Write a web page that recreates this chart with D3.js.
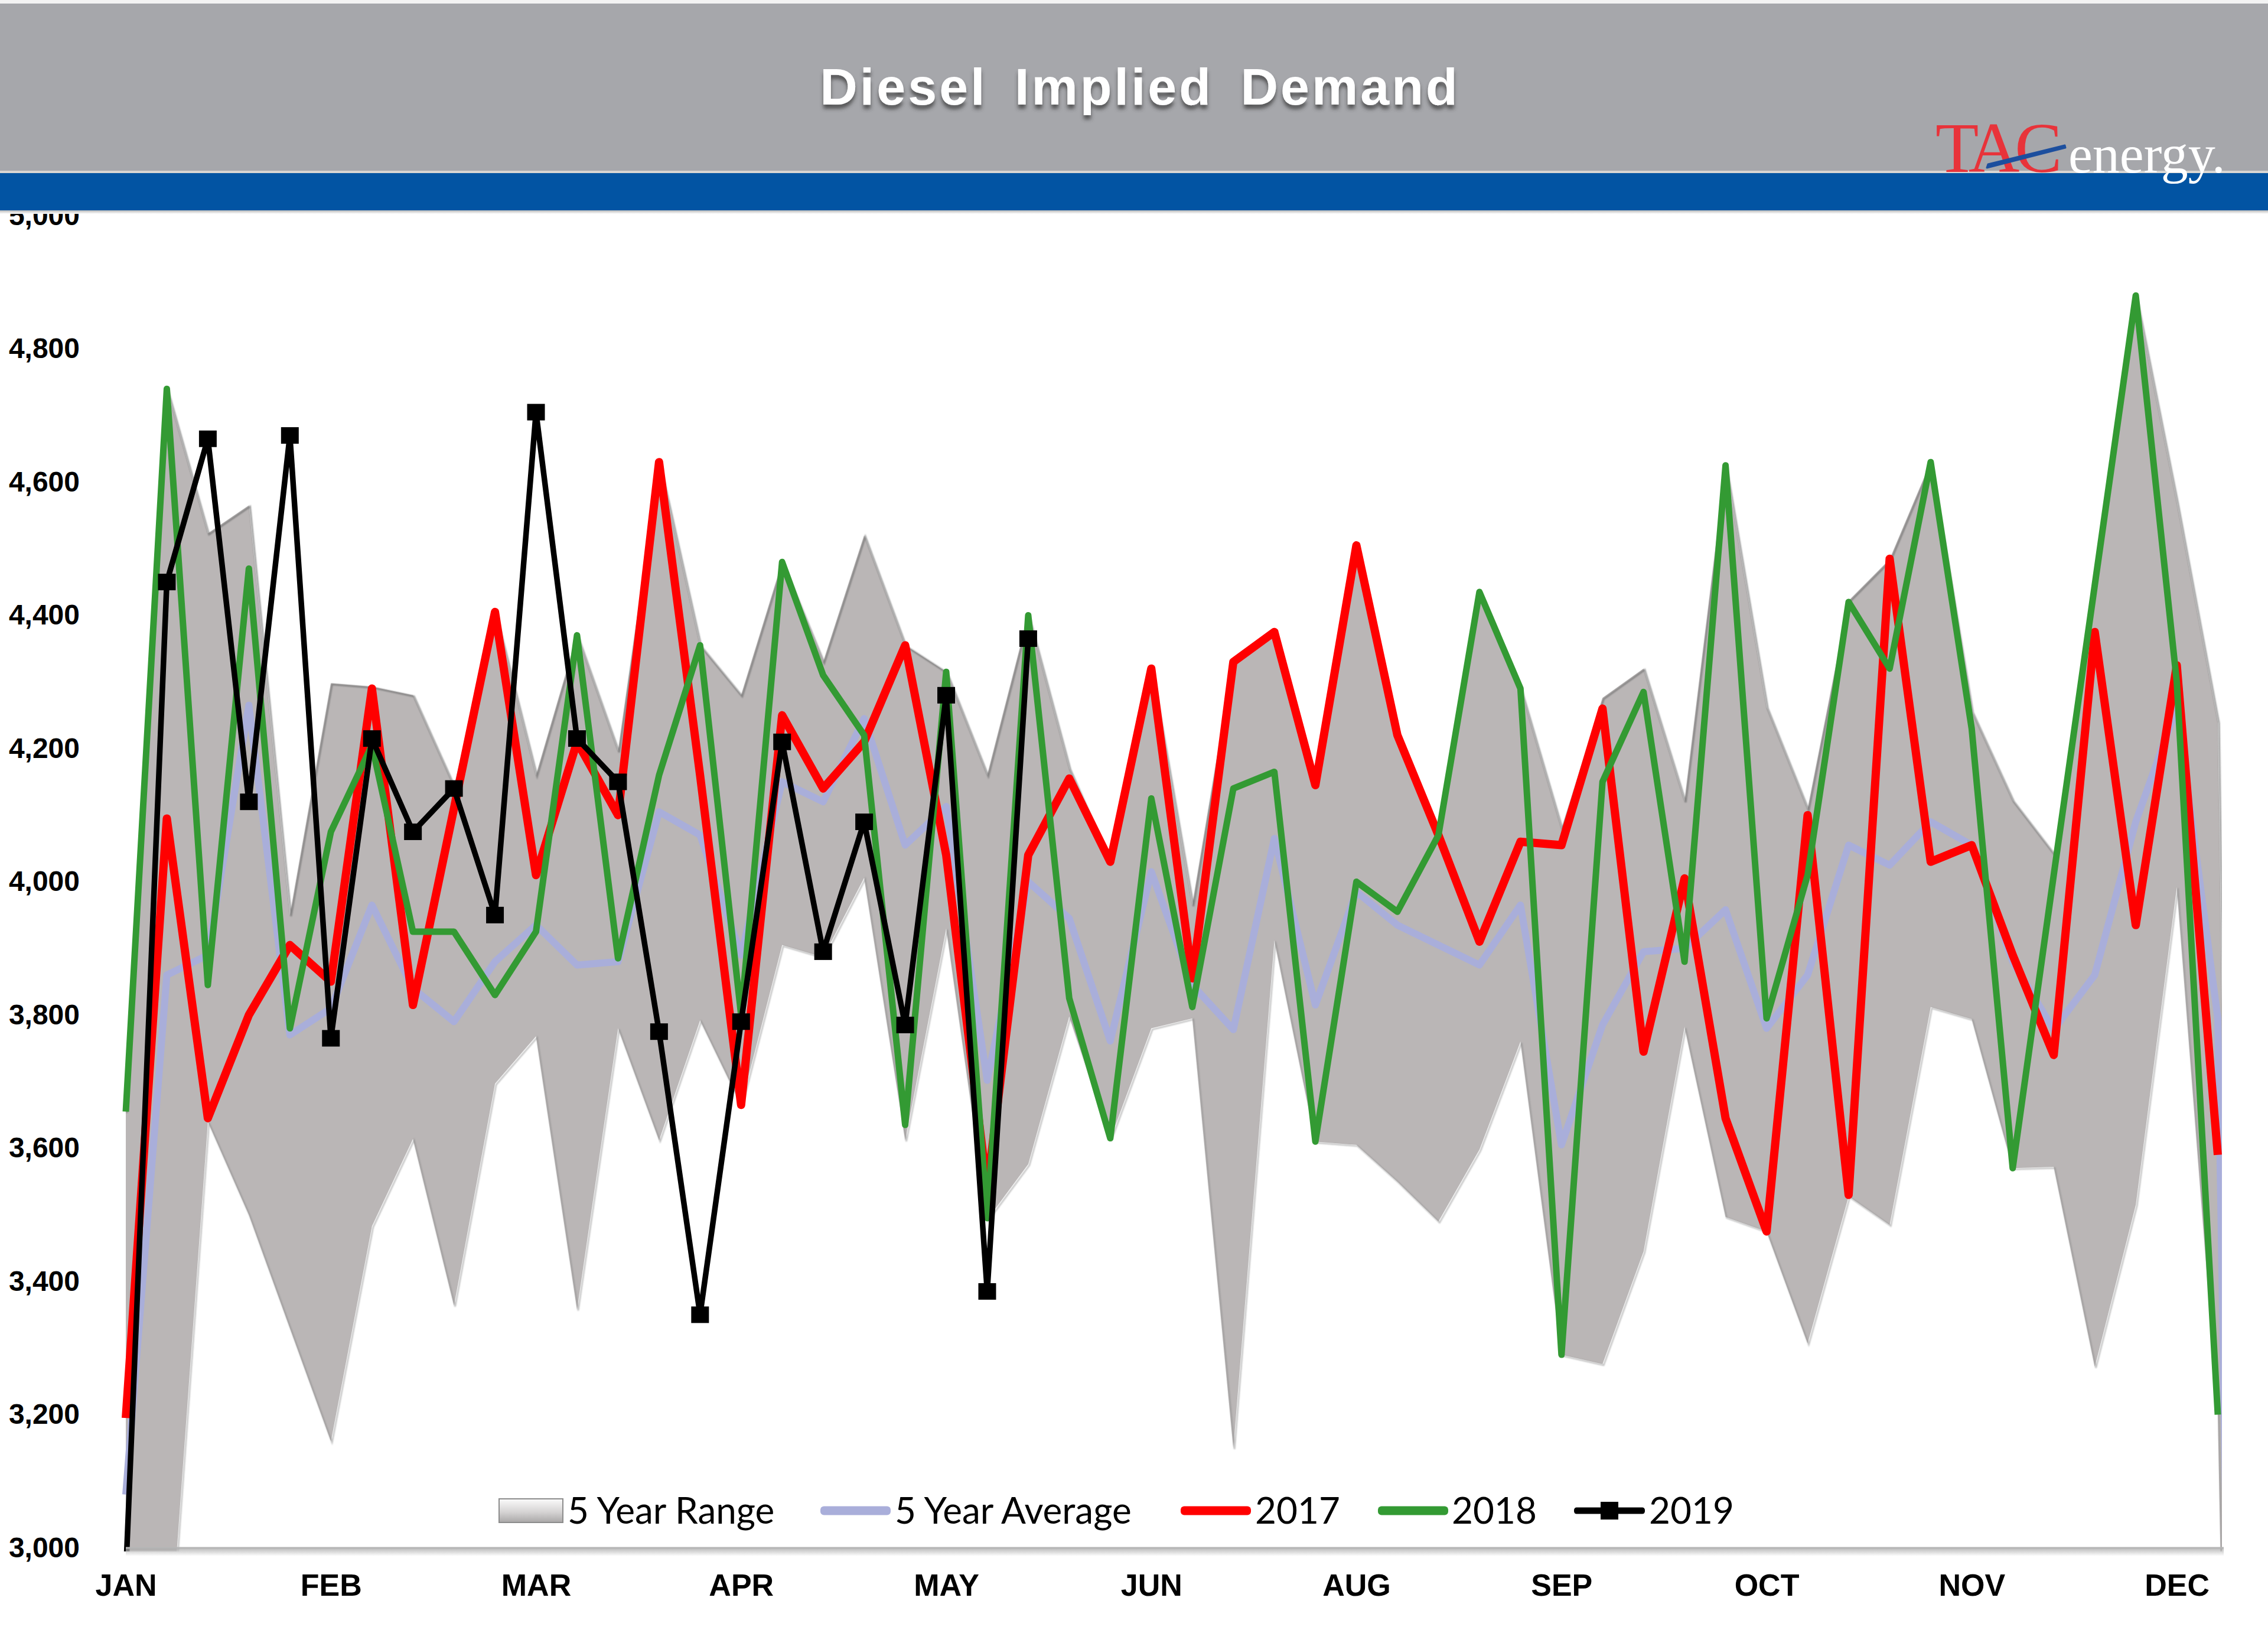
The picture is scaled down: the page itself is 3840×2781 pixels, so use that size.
<!DOCTYPE html>
<html>
<head>
<meta charset="utf-8">
<script src="https://cdn.jsdelivr.net/npm/d3@7/dist/d3.min.js"></script>
<style>
  html, body { margin: 0; padding: 0; background: #ffffff; }
  svg { display: block; }
</style>
</head>
<body>
<svg id="chart" width="3840" height="2781"></svg>
<script>
// ---------------- DATA ----------------
const weeks = [1,2,3,4,5,6,7,8,9,10,11,12,13,14,15,16,17,18,19,20,21,22,23,24,25,26,
               27,28,29,30,31,32,33,34,35,36,37,38,39,40,41,42,43,44,45,46,47,48,49,50,51,52];
const tickWeeks  = [1,6,11,16,21,26,31,36,41,46,51];
const tickLabels = ["JAN","FEB","MAR","APR","MAY","JUN","AUG","SEP","OCT","NOV","DEC"];
const yTicks = [3000,3200,3400,3600,3800,4000,4200,4400,4600,4800,5000];

// 5-year range (min / max); last entry = week 53 (empty, plotted as 0)
const rangeMin = [2850,2790,3640,3500,3330,3160,3483,3614,3364,3697,3768,3358,3780,3612,3792,3665,
                  3905,3887,4006,3612,3930,3493,3576,3798,3614,3780,3795,3150,3912,3610,3605,3550,
                  3490,3598,3760,3290,3276,3445,3782,3497,3475,3307,3528,3485,3812,3794,3570,3572,
                  3272,3515,3992,3200,0];
const rangeMax = [3655,4740,4523,4565,3950,4298,4293,4280,4143,4405,4160,4370,4196,4630,4355,4280,
                  4480,4330,4520,4355,4315,4160,4400,4170,4030,4320,3965,4335,4375,4145,4505,4222,
                  4075,4435,4290,4080,4276,4320,4121,4625,4262,4109,4422,4484,4630,4256,4122,4042,
                  4445,4880,4570,4240,0];
const avg5 = [3080,3860,3890,4265,3770,3810,3965,3840,3790,3880,3935,3875,3880,4105,4070,3890,
              4150,4120,4245,4055,4113,3702,4000,3945,3761,4015,3845,3778,4065,3815,3985,3935,
              3905,3875,3965,3605,3785,3895,3900,3958,3780,3860,4055,4025,4090,4055,3880,3778,
              3860,4090,4262,3795,0];
const y2017 = [3195,4095,3645,3800,3905,3850,4290,3815,4110,4405,4010,4210,4100,4630,4160,3665,
               4250,4140,4210,4355,4040,3540,4040,4155,4030,4320,3855,4330,4375,4145,4505,4220,
               4070,3910,4060,4055,4260,3745,4005,3645,3475,4100,3530,4485,4030,4055,3890,3740,
               4375,3935,4325,3590];
const y2018 = [3655,4740,3845,4470,3780,4075,4205,3925,3925,3830,3925,4370,3885,4160,4355,3800,
               4480,4310,4220,3635,4315,3495,4400,3825,3615,4125,3812,4140,4165,3610,4000,3955,
               4070,4435,4290,3290,4150,4285,3880,4625,3795,4010,4420,4320,4630,4230,3570,4010,
               4445,4880,4300,3200];
const y2019 = [2960,4450,4665,4120,4670,3765,4215,4075,4140,3950,4705,4215,4150,3775,3350,3790,
               4210,3895,4090,3785,4280,3385,4365];

const colors = { range:"#bab6b6", avg:"#a9aeda", y2017:"#ff0000", y2018:"#339a33", y2019:"#000000" };

// ---------------- SCALES ----------------
const svg = d3.select("#chart");
const x = d3.scaleLinear().domain([weeks[0], weeks[weeks.length-1]]).range([213, 3755]);
const y = d3.scaleLinear().domain([3000, 5000]).range([2620, 365]);
const wk = i => weeks[0] + i;   // week number for array index

const defs = svg.append("defs");
defs.append("clipPath").attr("id","plotClip")
  .append("rect").attr("x",196).attr("y",330).attr("width",3566).attr("height",2296);
const lg = defs.append("linearGradient").attr("id","rangeSwatch").attr("x1",0).attr("y1",0).attr("x2",0).attr("y2",1);
lg.append("stop").attr("offset","0%").attr("stop-color","#fbfbfb");
lg.append("stop").attr("offset","55%").attr("stop-color","#d6d4d4");
lg.append("stop").attr("offset","100%").attr("stop-color","#a9a7a7");
const sh = defs.append("linearGradient").attr("id","bandShadow").attr("x1",0).attr("y1",0).attr("x2",0).attr("y2",1);
sh.append("stop").attr("offset","0%").attr("stop-color","#b9b9b9");
sh.append("stop").attr("offset","100%").attr("stop-color","#ffffff");
const ax = defs.append("linearGradient").attr("id","axisShadow").attr("x1",0).attr("y1",0).attr("x2",0).attr("y2",1);
ax.append("stop").attr("offset","0%").attr("stop-color","#9a9a9a");
ax.append("stop").attr("offset","100%").attr("stop-color","#ffffff");
const tf = defs.append("filter").attr("id","titleShadow").attr("x","-10%").attr("y","-30%").attr("width","120%").attr("height","180%");
tf.append("feDropShadow").attr("dx",0).attr("dy",7).attr("stdDeviation",3)
  .attr("flood-color","#3a3a3a").attr("flood-opacity",0.75);
const ef = defs.append("filter").attr("id","edgeBlur");
ef.append("feGaussianBlur").attr("stdDeviation",1.2);

// ---------------- PLOT ----------------
const plot = svg.append("g").attr("clip-path","url(#plotClip)");

const rangeData = rangeMin.map((m,i)=>({w:wk(i), lo:m, hi:rangeMax[i]}));
plot.append("path").datum(rangeData)
  .attr("d", d3.area().x(d=>x(d.w)).y0(d=>y(d.lo)).y1(d=>y(d.hi)))
  .attr("fill", colors.range);
plot.append("path").datum(rangeData)
  .attr("d", d3.line().x(d=>x(d.w)+2).y(d=>y(d.hi)+2))
  .attr("fill","none").attr("stroke","#6f6f6f").attr("stroke-width",3).attr("opacity",0.7)
  .attr("filter","url(#edgeBlur)");
plot.append("path").datum(rangeData)
  .attr("d", d3.line().x(d=>x(d.w)+2).y(d=>y(d.lo)+2))
  .attr("fill","none").attr("stroke","#8a8a8a").attr("stroke-width",2.5).attr("opacity",0.55)
  .attr("filter","url(#edgeBlur)");

const line = d3.line().x((d,i)=>x(wk(i))).y(d=>y(d)).curve(d3.curveLinear);

plot.append("path").datum(avg5).attr("d", line)
  .attr("fill","none").attr("stroke",colors.avg).attr("stroke-width",12).attr("stroke-linejoin","round");
plot.append("path").datum(y2017).attr("d", line)
  .attr("fill","none").attr("stroke",colors.y2017).attr("stroke-width",14).attr("stroke-linejoin","round");
plot.append("path").datum(y2018).attr("d", line)
  .attr("fill","none").attr("stroke",colors.y2018).attr("stroke-width",11).attr("stroke-linejoin","round");
plot.append("path").datum(y2019).attr("d", line)
  .attr("fill","none").attr("stroke",colors.y2019).attr("stroke-width",9.5).attr("stroke-linejoin","round");
plot.selectAll("rect.m19").data(y2019).enter().append("rect").attr("class","m19")
  .attr("x",(d,i)=>x(wk(i))-15).attr("y",d=>y(d)-14).attr("width",30).attr("height",28)
  .attr("fill",colors.y2019);

// x-axis baseline with soft shadow
svg.append("rect").attr("x",213).attr("y",y(3000)).attr("width",3552).attr("height",14).attr("fill","url(#axisShadow)").attr("opacity",0.7);
svg.append("line").attr("x1",213).attr("x2",3765).attr("y1",y(3000)).attr("y2",y(3000))
  .attr("stroke","#b5b5b5").attr("stroke-width",3);

// ---------------- AXES ----------------
const yAxis = svg.append("g").attr("transform","translate(141,0)")
  .call(d3.axisLeft(y).tickValues(yTicks).tickFormat(d3.format(",")).tickSize(0).tickPadding(6));
yAxis.select(".domain").remove();
yAxis.selectAll("text").attr("font-family","'Liberation Sans', Arial, sans-serif")
  .attr("font-weight","bold").attr("font-size",48).attr("fill","#000");

const xAxis = svg.append("g").attr("transform",`translate(0,${y(3000)})`)
  .call(d3.axisBottom(x).tickValues(tickWeeks).tickFormat((d,i)=>tickLabels[i]).tickSize(0).tickPadding(44));
xAxis.select(".domain").remove();
xAxis.selectAll("text").attr("font-family","'Liberation Sans', Arial, sans-serif")
  .attr("font-weight","bold").attr("font-size",52).attr("fill","#000");

// ---------------- LEGEND ----------------
const legY = 2557;
const legFont = "Lato, 'Open Sans', sans-serif";
const leg = svg.append("g");
leg.append("rect").attr("x",845).attr("y",legY-20).attr("width",108).attr("height",40)
  .attr("fill","url(#rangeSwatch)").attr("stroke","#8c8c8c").attr("stroke-width",2);
const legItems = [
  {label:"5 Year Range",   tx:961},
  {label:"5 Year Average", tx:1515, x1:1389, x2:1508, color:colors.avg,   w:15},
  {label:"2017",           tx:2125, x1:1999, x2:2118, color:colors.y2017, w:15},
  {label:"2018",           tx:2458, x1:2333, x2:2452, color:colors.y2018, w:15},
  {label:"2019",           tx:2792, x1:2665, x2:2785, color:colors.y2019, w:11, marker:true}
];
legItems.forEach(it=>{
  if (it.x1 !== undefined) {
    leg.append("rect").attr("x",it.x1).attr("y",legY-it.w/2).attr("width",it.x2-it.x1)
      .attr("height",it.w).attr("rx",it.w/2.5).attr("fill",it.color);
  }
  if (it.marker) {
    leg.append("rect").attr("x",(it.x1+it.x2)/2-15).attr("y",legY-15).attr("width",30).attr("height",30).attr("fill",it.color);
  }
  leg.append("text").attr("x",it.tx).attr("y",legY+22).text(it.label)
    .attr("font-family",legFont).attr("font-size",62).attr("fill","#000");
});

// ---------------- HEADER ----------------
const hdr = svg.append("g");
hdr.append("rect").attr("x",0).attr("y",0).attr("width",3840).attr("height",6).attr("fill","#f3f3f3");
hdr.append("rect").attr("x",0).attr("y",6).attr("width",3840).attr("height",285).attr("fill","#a6a7ab");
hdr.append("rect").attr("x",0).attr("y",289).attr("width",3840).attr("height",4).attr("fill","#d9d6d2");
hdr.append("rect").attr("x",0).attr("y",293).attr("width",3840).attr("height",63).attr("fill","#0254a3");
hdr.append("rect").attr("x",0).attr("y",356).attr("width",3840).attr("height",6).attr("fill","url(#bandShadow)");

hdr.append("text").attr("x",1930).attr("y",177).attr("text-anchor","middle")
  .attr("font-family","'Liberation Sans', Arial, sans-serif").attr("font-weight","bold")
  .attr("font-size",88).attr("letter-spacing",4).attr("word-spacing",18)
  .attr("fill","#ffffff").attr("filter","url(#titleShadow)")
  .text("Diesel Implied Demand");

// logo
const logo = hdr.append("g");
logo.append("text").attr("x",3277).attr("y",291)
  .attr("font-family","'Liberation Serif', 'Times New Roman', serif").attr("font-size",120)
  .attr("letter-spacing",-8).attr("fill","#e8333a").text("TAC");
logo.append("path")
  .attr("d","M3364,284 L3366,278 L3496,246 L3497,250 Z")
  .attr("fill","#1d4f9e").attr("stroke","#1d4f9e").attr("stroke-width",3).attr("stroke-linejoin","round");
logo.append("text").attr("x",3502).attr("y",292)
  .attr("font-family","'Liberation Serif', 'Times New Roman', serif").attr("font-size",92)
  .attr("fill","#ffffff").text("energy.");
</script>
</body>
</html>
